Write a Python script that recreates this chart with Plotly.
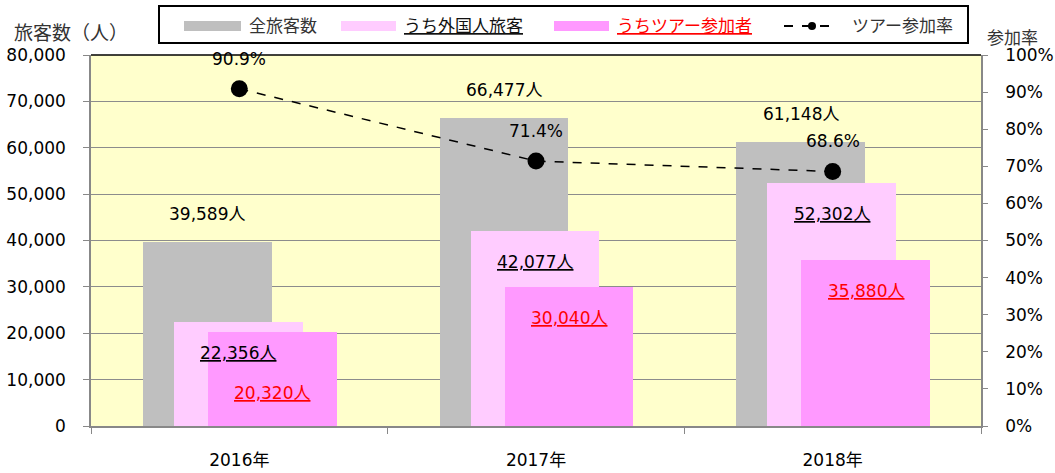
import plotly.graph_objects as go

# ---- data ----
years = ["2016年", "2017年", "2018年"]
total_visitors = [39589, 66477, 61148]
foreign_visitors = [22356, 42077, 52302]
tour_participants = [20320, 30040, 35880]
tour_rate = [0.909, 0.714, 0.686]

series_names = ["全旅客数", "うち外国人旅客", "うちツアー参加者", "ツアー参加率"]
left_title = "旅客数（人）"
right_title = "参加率"

# ---- style ----
FONT = "DejaVu Sans, Noto Sans CJK JP, sans-serif"
C_GRAY = "#BFBFBF"
C_LPINK = "#FFCCFF"
C_PINK = "#FF99FF"
C_BG = "#FFFFCC"
C_RED = "#FF0000"

W, H = 1055, 473
X0, X1, Y0, Y1 = 91, 981, 55, 426  # plot area in pixels

def px(x):
    return (x - X0) / (X1 - X0)

def py(y):
    return (Y1 - y) / (Y1 - Y0)

BW = 0.434
OFF = [-0.325, -0.2205, -0.106]  # left edge offsets for each bar series
xs = list(range(len(years)))

fig = go.Figure()
for vals, col, off in [(total_visitors, C_GRAY, OFF[0]),
                       (foreign_visitors, C_LPINK, OFF[1]),
                       (tour_participants, C_PINK, OFF[2])]:
    fig.add_trace(go.Bar(x=xs, y=vals, width=[BW] * 3, offset=off,
                         marker=dict(color=col, line=dict(width=0)),
                         showlegend=False, hoverinfo="skip"))

fig.add_trace(go.Scatter(x=xs, y=tour_rate, yaxis="y2", mode="lines+markers",
                         line=dict(color="black", width=1.5, dash="dash"),
                         marker=dict(color="black", size=17),
                         showlegend=False, hoverinfo="skip"))

ann = []
lab_font = dict(family=FONT, size=17, color="black")
# total labels above gray bars
for i, v in enumerate(total_visitors):
    ann.append(dict(x=i + OFF[0] + BW / 2, y=v, xref="x", yref="y",
                    text=f"{v:,}人", showarrow=False, yshift=28, font=lab_font))
# foreign labels
for i, v in enumerate(foreign_visitors):
    ann.append(dict(x=i + OFF[1] + BW / 2, y=v, xref="x", yref="y",
                    text=f"<u>{v:,}人</u>", showarrow=False, yshift=-31, font=lab_font))
# tour labels
tour_shift = [-61, -31, -31]
for i, v in enumerate(tour_participants):
    ann.append(dict(x=i + OFF[2] + BW / 2, y=v, xref="x", yref="y",
                    text=f"<u>{v:,}人</u>", showarrow=False, yshift=tour_shift[i],
                    font=dict(family=FONT, size=17, color=C_RED)))
# rate labels
for i, v in enumerate(tour_rate):
    ann.append(dict(x=i, y=v, xref="x", yref="y2", text=f"{v*100:.1f}%",
                    showarrow=False, yshift=30, font=lab_font))

# axis titles
ann.append(dict(x=px(12), y=py(20), xref="paper", yref="paper", xanchor="left",
                text=left_title, showarrow=False,
                font=dict(family=FONT, size=19, color="#333333")))
ann.append(dict(x=px(986), y=py(27), xref="paper", yref="paper", xanchor="left",
                text=right_title, showarrow=False, borderpad=0,
                font=dict(family=FONT, size=17, color="#333333")))

shapes = []
# top border of plot area
shapes.append(dict(type="line", xref="paper", yref="paper", x0=0, x1=1, y0=1, y1=1,
                   line=dict(color="black", width=1.5)))
# legend box
shapes.append(dict(type="rect", xref="paper", yref="paper",
                   x0=px(159), x1=px(968), y0=py(6), y1=py(43),
                   line=dict(color="black", width=2), fillcolor="white"))
leg_y = 26
for (a, b, col) in [(184, 241, C_GRAY), (341, 396, C_LPINK), (554, 609, C_PINK)]:
    shapes.append(dict(type="rect", xref="paper", yref="paper",
                       x0=px(a), x1=px(b), y0=py(leg_y + 5), y1=py(leg_y - 5),
                       line=dict(width=0), fillcolor=col))
shapes.append(dict(type="line", xref="paper", yref="paper",
                   x0=px(784), x1=px(837), y0=py(leg_y), y1=py(leg_y),
                   line=dict(color="black", width=2, dash="dash")))
shapes.append(dict(type="circle", xref="paper", yref="paper",
                   x0=px(808), x1=px(816), y0=py(leg_y + 4), y1=py(leg_y - 4),
                   line=dict(width=0), fillcolor="black"))

for xpos, txt, col in [(247, series_names[0], "#333333"),
                       (402, f"<u>{series_names[1]}</u>", "#111111"),
                       (615, f"<u>{series_names[2]}</u>", C_RED),
                       (850, series_names[3], "#333333")]:
    ann.append(dict(x=px(xpos), y=py(leg_y), xref="paper", yref="paper",
                    xanchor="left", yanchor="middle", text=txt, showarrow=False,
                    font=dict(family=FONT, size=17, color=col)))

fig.update_layout(
    width=W, height=H,
    margin=dict(l=X0, r=W - X1, t=Y0, b=H - Y1, autoexpand=False),
    paper_bgcolor="white", plot_bgcolor=C_BG,
    barmode="overlay", bargap=0,
    showlegend=False,
    font=dict(family=FONT, size=17, color="black"),
    xaxis=dict(range=[-0.5, 2.5], tickvals=xs, ticktext=years, ticks="",
               showgrid=False, showline=True, linecolor="#888888", linewidth=1.5,
               zeroline=False, ticklabelstandoff=18, automargin=False,
               minor=dict(ticks="outside", tick0=-0.5, dtick=1, ticklen=6,
                          tickcolor="#888888", showgrid=False),
               tickfont=dict(family=FONT, size=17, color="black"), fixedrange=True),
    yaxis=dict(range=[0, 80000], dtick=10000, tickformat=",", ticks="outside",
               ticklen=6, tickcolor="#888888", showgrid=True, gridcolor="#8C8C8C",
               gridwidth=1.2, showline=True, linecolor="#888888", linewidth=1.5,
               zeroline=False, ticklabelstandoff=14, automargin=False,
               tickfont=dict(family=FONT, size=17, color="black")),
    yaxis2=dict(range=[0, 1], dtick=0.1, tickformat=".0%", overlaying="y",
                side="right", ticks="outside", ticklen=5, tickcolor="#888888",
                showgrid=False, showline=True, linecolor="#888888", linewidth=1.5,
                zeroline=False, ticklabelstandoff=14, automargin=False,
                tickfont=dict(family=FONT, size=17, color="black")),
    annotations=ann, shapes=shapes,
)

fig.write_html("out.html", config={"displayModeBar": False},
               post_script="document.body.style.margin='0';document.body.style.overflow='hidden';")
